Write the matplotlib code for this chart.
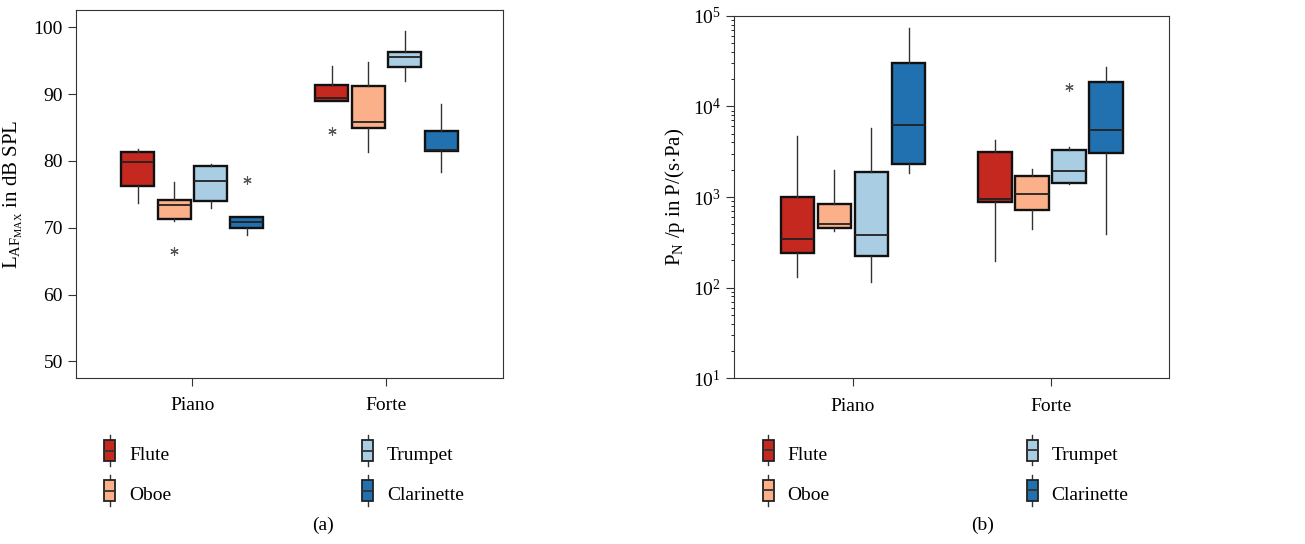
import numpy as np
import matplotlib
matplotlib.use('Agg')
import matplotlib.pyplot as plt
from matplotlib.legend_handler import HandlerBase
from matplotlib.patches import Rectangle, Patch
from matplotlib.lines import Line2D

plt.rcParams['font.family'] = ['Liberation Serif', 'DejaVu Serif']
plt.rcParams['mathtext.fontset'] = 'custom'
plt.rcParams['mathtext.rm'] = 'Liberation Serif'
plt.rcParams['mathtext.it'] = 'Liberation Serif:italic'
plt.rcParams['font.size'] = 14

instruments = ['Flute', 'Oboe', 'Trumpet', 'Clarinette']
dynamics = ['Piano', 'Forte']
colors = ['#c4281f', '#fbb08a', '#a9cde3', '#2171b0']

# (a) max sound level, rows = dynamics, cols = instruments
lvl_lo = [[73.7, 71.0, 72.9, 68.9], [89.0, 81.4, 92.0, 78.4]]
lvl_q1 = [[76.3, 71.3, 74.0, 70.0], [89.0, 84.9, 94.0, 81.5]]
lvl_med = [[79.8, 73.4, 77.0, 70.9], [89.4, 85.8, 95.5, 81.6]]
lvl_q3 = [[81.4, 74.2, 79.3, 71.6], [91.3, 91.2, 96.3, 84.5]]
lvl_hi = [[81.8, 76.9, 79.6, 71.6], [94.2, 94.8, 99.4, 88.5]]
lvl_out = [[[], [66.5], [], [77.2]], [[84.5], [], [], []]]

# (b) normalised power
pow_lo = [[132, 418, 115, 1854], [199, 448, 1390, 391]]
pow_q1 = [[241, 455, 225, 2290], [873, 719, 1427, 3083]]
pow_med = [[347, 500, 381, 6280], [942, 1088, 1935, 5530]]
pow_q3 = [[1009, 837, 1888, 30300], [3135, 1719, 3327, 18700]]
pow_hi = [[4745, 1986, 5718, 72500], [4217, 2053, 3589, 26930]]
pow_out = [[[], [], [], []], [[], [], [16480], []]]

offsets = (np.arange(len(instruments)) - 1.5) * 0.1875
width = 0.17


def draw_boxes(ax, lo, q1, med, q3, hi, out):
    for g in range(len(dynamics)):
        for i in range(len(instruments)):
            st = [dict(whislo=lo[g][i], q1=q1[g][i], med=med[g][i], q3=q3[g][i],
                       whishi=hi[g][i], fliers=out[g][i])]
            ax.bxp(st, positions=[g + offsets[i]], widths=width, patch_artist=True,
                   showcaps=False, manage_ticks=False,
                   boxprops=dict(facecolor=colors[i], edgecolor='#111111', linewidth=1.7),
                   medianprops=dict(color='#222222', linewidth=1.3),
                   whiskerprops=dict(color='#333333', linewidth=1.0),
                   flierprops=dict(marker=(6, 2, 0), markersize=6, markeredgewidth=0.8,
                                   markeredgecolor='#555555', linestyle='none'),
                   zorder=3)
    ax.set_xticks(range(len(dynamics)))
    ax.set_xticklabels(dynamics)
    ax.set_xlim(-0.6, 1.6)
    ax.tick_params(direction='out', length=6, color='#333333')
    ax.tick_params(axis='x', pad=8)
    for s in ax.spines.values():
        s.set_color('#333333')


class BoxHandler(HandlerBase):
    def create_artists(self, legend, orig, xd, yd, w, h, fs, trans):
        bw = w * 0.7
        x0 = xd + (w - bw) / 2
        bh = h * 1.3
        y0 = yd + (h - bh) / 2
        cx = x0 + bw / 2
        arts = [
            Line2D([cx, cx], [y0 - h * 0.3, y0 + bh + h * 0.3], color='#333333', lw=1.0),
            Rectangle((x0, y0), bw, bh, facecolor=orig.get_facecolor(), edgecolor='#222222', lw=1.3),
            Line2D([x0, x0 + bw], [y0 + bh / 2, y0 + bh / 2], color='#333333', lw=1.3),
        ]
        for a in arts:
            a.set_transform(trans)
        return arts


fig = plt.figure(figsize=(13.05, 5.44), dpi=100)
ax1 = fig.add_axes([0.0582, 0.3051, 0.3272, 0.6765])
ax2 = fig.add_axes([0.5627, 0.3046, 0.3333, 0.6665])

draw_boxes(ax1, lvl_lo, lvl_q1, lvl_med, lvl_q3, lvl_hi, lvl_out)
ax1.set_ylim(47.5, 102.6)
ax1.set_yticks([50, 60, 70, 80, 90, 100])
ax1.set_ylabel(r'$\mathregular{L_{AF_{MAX}}}$ in dB SPL', fontsize=15, labelpad=6)

draw_boxes(ax2, pow_lo, pow_q1, pow_med, pow_q3, pow_hi, pow_out)
ax2.set_yscale('log')
ax2.set_ylim(10, 1e5)
ax2.set_ylabel(r'$\mathregular{P_N}$ /p in P/(s$\cdot$Pa)', fontsize=15)

handles = [Patch(facecolor=c) for c in colors]
for ax, cs in ((ax1, 9.7), (ax2, 10.0)):
    ax.legend(handles, instruments, handler_map={Patch: BoxHandler()}, ncol=2,
              loc='upper left', bbox_to_anchor=(0.02, -0.135), frameon=False,
              handlelength=0.8, handleheight=0.9, handletextpad=0.6,
              columnspacing=cs, labelspacing=1.1, fontsize=14)

fig.text(323 / 1305, 1 - 525 / 544, '(a)', ha='center', va='center', fontsize=14)
fig.text(983 / 1305, 1 - 525 / 544, '(b)', ha='center', va='center', fontsize=14)

fig.savefig('out.png', dpi=100)
